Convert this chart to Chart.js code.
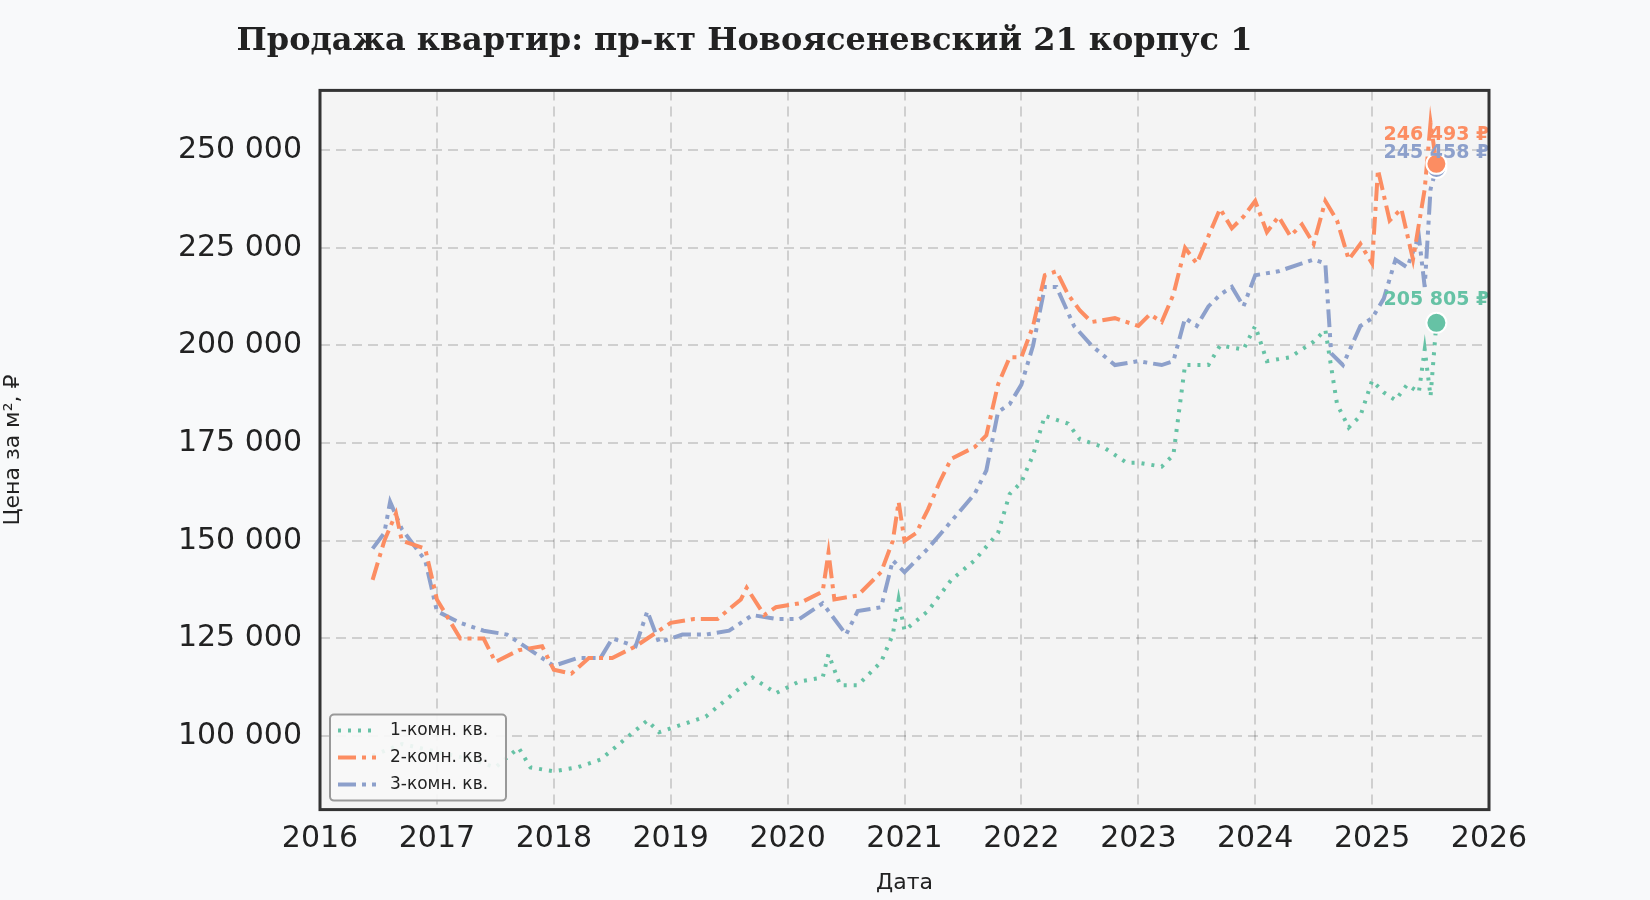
<!doctype html>
<html lang="en">
<head>
<meta charset="utf-8">
<title>Продажа квартир</title>
<style>
  * { margin: 0; padding: 0; }
  body { background: #f8f9fa; }
  .chartBox { width: 1650px; height: 900px; }
</style>
</head>
<body>
<div class="chartBox"><canvas id="myChart" width="1650" height="900"></canvas></div>
<script src="https://cdn.jsdelivr.net/npm/chart.js"></script>
<script>
// setup
const seriesNames = ['1-комн. кв.', '2-комн. кв.', '3-комн. кв.'];
const colors = ['#66c2a5', '#fc8d62', '#8da0cb'];
const xTicks = [2016, 2017, 2018, 2019, 2020, 2021, 2022, 2023, 2024, 2025, 2026];
const yTicks = [100000, 125000, 150000, 175000, 200000, 225000, 250000];

const dates1 = [2016.45,2016.7,2017.0,2017.3,2017.5,2017.7,2017.8,2018.0,2018.2,2018.4,2018.6,2018.8,2018.9,2019.1,2019.3,2019.5,2019.7,2019.9,2020.1,2020.3,2020.35,2020.45,2020.6,2020.8,2020.9,2020.95,2021.0,2021.2,2021.4,2021.6,2021.8,2021.9,2022.0,2022.1,2022.2,2022.4,2022.5,2022.7,2022.9,2023.0,2023.2,2023.3,2023.4,2023.6,2023.7,2023.9,2024.0,2024.1,2024.3,2024.5,2024.6,2024.7,2024.8,2024.9,2025.0,2025.1,2025.2,2025.3,2025.4,2025.45,2025.5,2025.55];
const values1 = [95000,98000,96000,94000,92000,97000,92000,91000,92000,94000,99000,104000,101000,103000,105000,110000,115000,111000,114000,115000,121000,113000,113000,119000,126000,135000,127000,132000,140000,145000,152000,162000,165000,172000,182000,180000,176000,174000,170000,170000,169000,172000,195000,195000,200000,199000,205000,196000,197000,201000,204000,185000,179000,182000,191000,188000,186000,190000,188000,199000,187000,205805];

const dates2 = [2016.45,2016.55,2016.65,2016.7,2016.9,2017.0,2017.1,2017.2,2017.4,2017.5,2017.7,2017.9,2018.0,2018.15,2018.3,2018.5,2018.7,2018.9,2019.0,2019.2,2019.4,2019.6,2019.65,2019.8,2019.9,2020.1,2020.3,2020.35,2020.4,2020.6,2020.8,2020.9,2020.95,2021.0,2021.1,2021.2,2021.3,2021.4,2021.6,2021.7,2021.8,2021.9,2022.0,2022.1,2022.2,2022.3,2022.4,2022.5,2022.6,2022.8,2023.0,2023.1,2023.2,2023.3,2023.4,2023.5,2023.6,2023.7,2023.8,2023.9,2024.0,2024.1,2024.2,2024.3,2024.4,2024.5,2024.6,2024.7,2024.8,2024.9,2025.0,2025.05,2025.15,2025.25,2025.35,2025.45,2025.5,2025.55];
const values2 = [140000,150000,157000,150000,148000,135000,130000,125000,125000,119000,122000,123000,117000,116000,120000,120000,123000,127000,129000,130000,130000,135000,138000,131000,133000,134000,137000,147000,135000,136000,142000,150000,160000,150000,152000,158000,165000,171000,174000,177000,190000,197000,197000,205000,218000,219000,213000,209000,206000,207000,205000,208000,206000,213000,225000,221000,228000,235000,230000,233000,237000,229000,233000,228000,231000,226000,237000,232000,222000,226000,221000,245000,232000,235000,222000,240000,257000,246493];

const dates3 = [2016.45,2016.55,2016.6,2016.7,2016.8,2016.9,2017.0,2017.2,2017.4,2017.6,2017.8,2018.0,2018.2,2018.4,2018.5,2018.7,2018.8,2018.9,2019.1,2019.3,2019.5,2019.7,2019.9,2020.1,2020.3,2020.5,2020.6,2020.8,2020.9,2021.0,2021.2,2021.4,2021.6,2021.7,2021.8,2021.9,2022.0,2022.1,2022.2,2022.3,2022.45,2022.6,2022.8,2023.0,2023.2,2023.3,2023.4,2023.5,2023.6,2023.7,2023.8,2023.9,2024.0,2024.2,2024.4,2024.5,2024.6,2024.65,2024.75,2024.9,2025.0,2025.1,2025.2,2025.3,2025.4,2025.45,2025.5,2025.55];
const values3 = [148000,152000,160000,153000,149000,145000,132000,129000,127000,126000,122000,118000,120000,120000,125000,123000,132000,124000,126000,126000,127000,131000,130000,130000,134000,126000,132000,133000,145000,142000,148000,155000,162000,168000,183000,185000,190000,200000,215000,215000,205000,200000,195000,196000,195000,196000,207000,205000,210000,213000,215000,210000,218000,219000,221000,222000,221000,198000,195000,205000,207000,212000,222000,220000,228000,215000,240000,245458];

const dashes = [[3, 7], [18, 6, 4, 6], [18, 6, 4, 6, 4, 6]];
const allDates = [dates1, dates2, dates3];
const allValues = [values1, values2, values3];

const fmt = v => Math.round(v).toString().replace(/\B(?=(\d{3})+(?!\d))/g, ' ');

const datasets = seriesNames.map((name, i) => ({
  label: name,
  data: allDates[i].map((d, j) => ({ x: d, y: allValues[i][j] })),
  borderColor: colors[i],
  backgroundColor: colors[i],
  borderWidth: 4,
  borderDash: dashes[i],
  tension: 0,
  pointRadius: allDates[i].map((d, j) => j === allDates[i].length - 1 ? 10 : 0),
  pointBorderColor: '#ffffff',
  pointBorderWidth: 2
}));

// plot background, frame, end labels, legend
const decor = {
  id: 'decor',
  beforeDraw(chart) {
    const { ctx, chartArea: a } = chart;
    ctx.save();
    ctx.fillStyle = '#f8f9fa';
    ctx.fillRect(0, 0, chart.width, chart.height);
    ctx.fillStyle = '#f4f4f4';
    ctx.fillRect(a.left, a.top, a.right - a.left, a.bottom - a.top);
    ctx.restore();
  },
  afterDatasetsDraw(chart) {
    const { ctx, chartArea: a } = chart;
    ctx.save();
    ctx.font = 'bold 19px "DejaVu Sans"';
    ctx.textAlign = 'center';
    const offs = [-18, -24, -10];
    chart.data.datasets.forEach((ds, i) => {
      const meta = chart.getDatasetMeta(i);
      const p = meta.data[meta.data.length - 1];
      ctx.fillStyle = colors[i];
      ctx.fillText(fmt(ds.data[ds.data.length - 1].y) + ' ₽', p.x, p.y + offs[i]);
    });
    // legend
    const lx = a.left + 10, ly = a.bottom - 95, lw = 176, lh = 86;
    ctx.fillStyle = 'rgba(248,248,248,0.9)';
    ctx.strokeStyle = '#999';
    ctx.lineWidth = 2;
    ctx.beginPath();
    ctx.roundRect(lx, ly, lw, lh, 4);
    ctx.fill();
    ctx.stroke();
    ctx.font = '17px "DejaVu Sans"';
    ctx.textAlign = 'left';
    ctx.textBaseline = 'middle';
    seriesNames.forEach((n, i) => {
      const y = ly + 16 + i * 27;
      ctx.strokeStyle = colors[i];
      ctx.lineWidth = 4;
      ctx.setLineDash(dashes[i]);
      ctx.beginPath();
      ctx.moveTo(lx + 8, y);
      ctx.lineTo(lx + 46, y);
      ctx.stroke();
      ctx.setLineDash([]);
      ctx.fillStyle = '#222';
      ctx.fillText(n, lx + 60, y);
    });
    // frame
    ctx.strokeStyle = '#333';
    ctx.lineWidth = 3;
    ctx.strokeRect(a.left, a.top, a.right - a.left, a.bottom - a.top);
    ctx.restore();
  }
};

const config = {
  type: 'line',
  data: { datasets },
  options: {
    responsive: false,
    animation: false,
    layout: { padding: { left: 0, right: 161, top: 10, bottom: 4 } },
    plugins: {
      legend: { display: false },
      tooltip: { enabled: false },
      title: {
        display: true,
        text: 'Продажа квартир: пр-кт Новоясеневский 21 корпус 1',
        color: '#222',
        font: { family: 'DejaVu Serif', size: 32, weight: 'bold' },
        padding: { top: 12, bottom: 30 }
      }
    },
    scales: {
      x: {
        type: 'linear',
        min: 2016, max: 2026,
        afterBuildTicks: s => { s.ticks = xTicks.map(v => ({ value: v })); },
        ticks: { color: '#222', font: { family: 'DejaVu Sans', size: 30 }, callback: v => v, padding: 12 },
        grid: { color: 'rgba(0,0,0,0.15)', lineWidth: 2, tickLength: 0 },
        border: { display: false, dash: [10, 6] },
        title: { display: true, text: 'Дата', color: '#222', font: { family: 'DejaVu Sans', size: 22 }, padding: 0 }
      },
      y: {
        min: 81200, max: 265300,
        afterBuildTicks: s => { s.ticks = yTicks.map(v => ({ value: v })); },
        afterFit: s => { s.width = 320; },
        ticks: { color: '#222', font: { family: 'DejaVu Sans', size: 30 }, callback: v => fmt(v), padding: 18 },
        grid: { color: 'rgba(0,0,0,0.15)', lineWidth: 2, tickLength: 0 },
        border: { display: false, dash: [10, 6] },
        title: { display: true, text: 'Цена за м², ₽', color: '#222', font: { family: 'DejaVu Sans', size: 22 }, padding: { top: 0, bottom: 0 } }
      }
    }
  },
  plugins: [decor]
};

const myChart = new Chart(document.getElementById('myChart'), config);
</script>
</body>
</html>
